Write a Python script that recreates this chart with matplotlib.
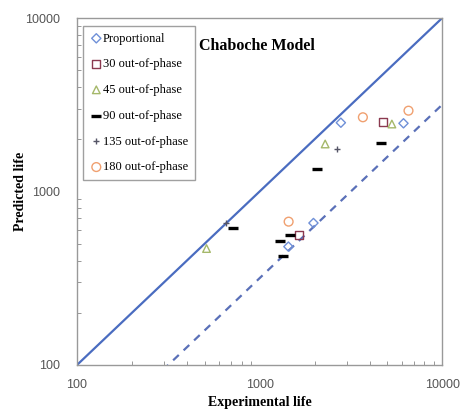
import matplotlib
matplotlib.use("Agg")
import matplotlib.pyplot as plt
import numpy as np

# experimental life vs predicted life
prop_exp = [2786, 6138, 1972, 1438]
prop_pred = [2492, 2472, 658, 481]
op30_exp = [1646, 4732]
op30_pred = [559, 2515]
op45_exp = [5302, 2286, 512]
op45_pred = [2449, 1879, 469]
op90_exp = [711, 1295, 1469, 1350, 2057, 4631]
op90_pred = [614, 520, 559, 427, 1343, 1911]
op135_exp = [2649, 651]
op135_pred = [1751, 661]
op180_exp = [1442, 3678, 6538]
op180_pred = [670, 2678, 2923]

band_x = [100, 10000]
band_factor = 3.16

serif = "Liberation Serif"
sans = "Liberation Sans"

fig = plt.figure(figsize=(4.64, 4.19), dpi=100)
ax = fig.add_axes([0.166, 0.129, 0.787, 0.828])

line_col = "#4a6cc0"
ax.plot(band_x, band_x, color=line_col, lw=1.6, zorder=1)
ax.plot(band_x, [v / band_factor for v in band_x], color="#5a70b8", lw=1.6,
        ls=(0, (3.5, 3)), zorder=1)

ax.scatter(prop_exp, prop_pred, marker="D", s=22, facecolors="none",
           edgecolors="#6f90d8", linewidths=1.0, label="Proportional", zorder=3)
ax.scatter(op30_exp, op30_pred, marker="s", s=30, facecolors="none",
           edgecolors="#8b3a50", linewidths=1.0, label="30 out-of-phase", zorder=3)
ax.scatter(op45_exp, op45_pred, marker="^", s=30, facecolors="none",
           edgecolors="#a5b86a", linewidths=1.0, label="45 out-of-phase", zorder=3)
ax.scatter(op90_exp, op90_pred, marker="_", s=45, color="black",
           linewidths=2.4, label="90 out-of-phase", zorder=3)
ax.scatter(op135_exp, op135_pred, marker="+", s=25, color="#555566",
           linewidths=1.0, label="135 out-of-phase", zorder=3)
ax.scatter(op180_exp, op180_pred, marker="o", s=40, facecolors="none",
           edgecolors="#f0a070", linewidths=1.0, label="180 out-of-phase", zorder=3)

ax.set_xscale("log")
ax.set_yscale("log")
ax.set_xlim(100, 10000)
ax.set_ylim(100, 10000)
ax.set_xticks([100, 1000, 10000])
ax.set_xticklabels(["100", "1000", "10000"])
ax.set_yticks([100, 1000, 10000])
ax.set_yticklabels(["100", "1000", "10000"])
ax.tick_params(which="both", direction="in", colors="#888888", labelcolor="#555555",
               labelsize=9)
ax.tick_params(which="major", length=0)
ax.tick_params(axis="x", which="major", pad=10)
ax.tick_params(axis="y", which="major", pad=12)
ax.tick_params(which="minor", length=3)
for lab in ax.get_xticklabels() + ax.get_yticklabels():
    lab.set_fontfamily(sans)
for sp in ax.spines.values():
    sp.set_color("#999999")
    sp.set_linewidth(1.0)

ax.set_xlabel("Experimental life", fontfamily=serif, fontweight="bold",
              fontsize=10, labelpad=4)
ax.set_ylabel("Predicted life", fontfamily=serif, fontweight="bold",
              fontsize=10, labelpad=-1)
ax.text(0.335, 0.92, "Chaboche Model", transform=ax.transAxes, fontfamily=serif,
        fontweight="bold", fontsize=11.5, ha="left", va="center")

leg = ax.legend(loc="upper left", bbox_to_anchor=(0.01, 0.985), frameon=True,
                fancybox=False, prop={"family": serif, "size": 9},
                handletextpad=0.0, handlelength=1.0, labelspacing=1.1,
                borderpad=0.55, borderaxespad=0.2)
leg.get_frame().set_edgecolor("#888888")
leg.get_frame().set_linewidth(1.0)

fig.savefig("out.png", dpi=100)
